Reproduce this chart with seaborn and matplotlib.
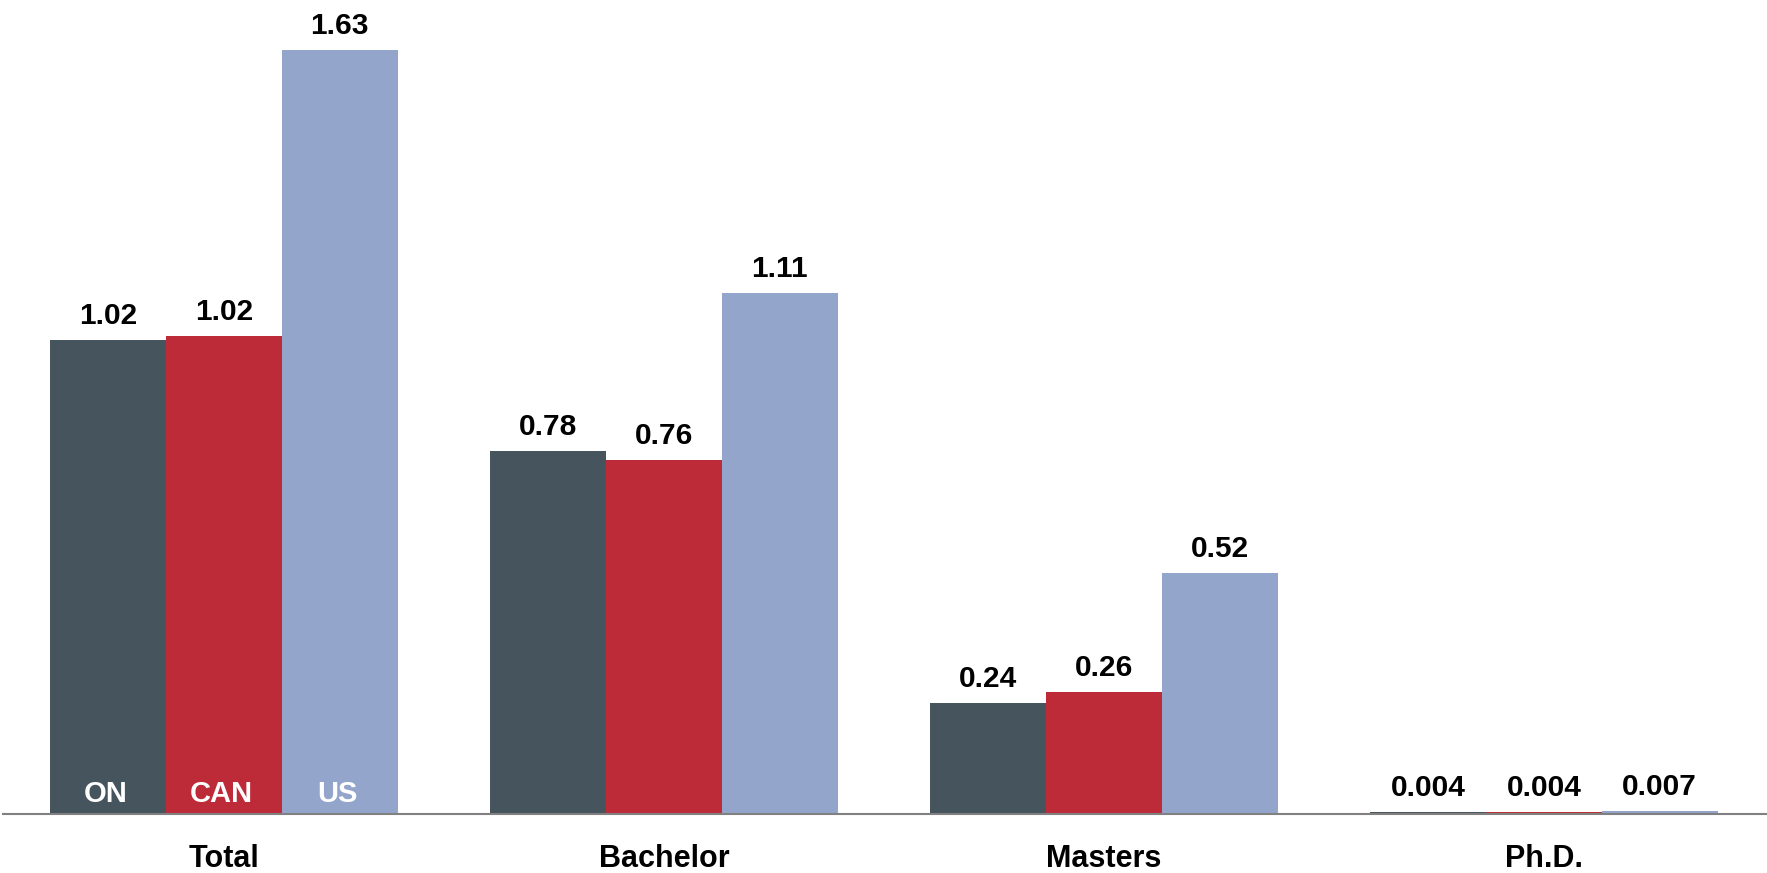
import matplotlib
matplotlib.use("Agg")
import matplotlib.pyplot as plt
import seaborn as sns
import pandas as pd

# data
categories = ["Total", "Bachelor", "Masters", "Ph.D."]
regions = ["ON", "CAN", "US"]
on_values = [1.02, 0.78, 0.24, 0.004]
can_values = [1.02, 0.76, 0.26, 0.004]
us_values = [1.63, 1.11, 0.52, 0.007]
# heights as drawn (labels are rounded)
on_heights = [1.011, 0.775, 0.237, 0.004]
can_heights = [1.020, 0.755, 0.260, 0.004]
us_heights = [1.630, 1.112, 0.515, 0.007]

colors = {"ON": "#46545E", "CAN": "#BE2B38", "US": "#94A5CB"}

rows = []
for reg, heights, labels in zip(regions, [on_heights, can_heights, us_heights],
                                [on_values, can_values, us_values]):
    for cat, h, lab in zip(categories, heights, labels):
        rows.append({"category": cat, "region": reg, "value": h, "label": lab})
df = pd.DataFrame(rows)

sns.set_style("white")
plt.rcParams["font.family"] = ["Liberation Sans", "DejaVu Sans"]
plt.rcParams["font.weight"] = "bold"

fig = plt.figure(figsize=(17.67, 8.73), dpi=100)
ax = fig.add_axes([3 / 1767, 59 / 873, 1764 / 1767, 814 / 873])

sns.barplot(data=df, x="category", y="value", hue="region", order=categories,
            hue_order=regions, palette=colors, width=0.79, gap=0, saturation=1,
            edgecolor="none", linewidth=0, legend=False, ax=ax)

ax.set_xlim(-0.502, 3.507)
ax.set_ylim(0, 1.737)

# value labels above bars
for container, reg in zip(ax.containers, regions):
    labels = df[df["region"] == reg]["label"].tolist()
    for bar, lab in zip(container, labels):
        txt = f"{lab:.3f}" if lab < 0.1 else f"{lab:.2f}"
        ax.annotate(txt, (bar.get_x() + bar.get_width() / 2, bar.get_height()),
                    xytext=(0, 11.5), textcoords="offset points",
                    ha="center", va="baseline", fontsize=21.5,
                    fontweight="bold", color="black")

# region names inside the Total bars
for container, reg in zip(ax.containers, regions):
    bar = container[0]
    ax.annotate(reg, (bar.get_x() + bar.get_width() / 2, 0),
                xytext=(-1.5, 8.6), textcoords="offset points",
                ha="center", va="baseline", fontsize=21,
                fontweight="bold", color="white")

for side in ["top", "right", "left"]:
    ax.spines[side].set_visible(False)
ax.spines["bottom"].set_color("#808080")
ax.spines["bottom"].set_linewidth(1.5)
ax.set_yticks([])
ax.set_xlabel("")
ax.set_ylabel("")
ax.tick_params(axis="x", length=0, pad=38, labelsize=22, labelcolor="black")
for lbl in ax.get_xticklabels():
    lbl.set_fontweight("bold")
    lbl.set_verticalalignment("baseline")

fig.savefig("out.png", dpi=100, facecolor="white")
